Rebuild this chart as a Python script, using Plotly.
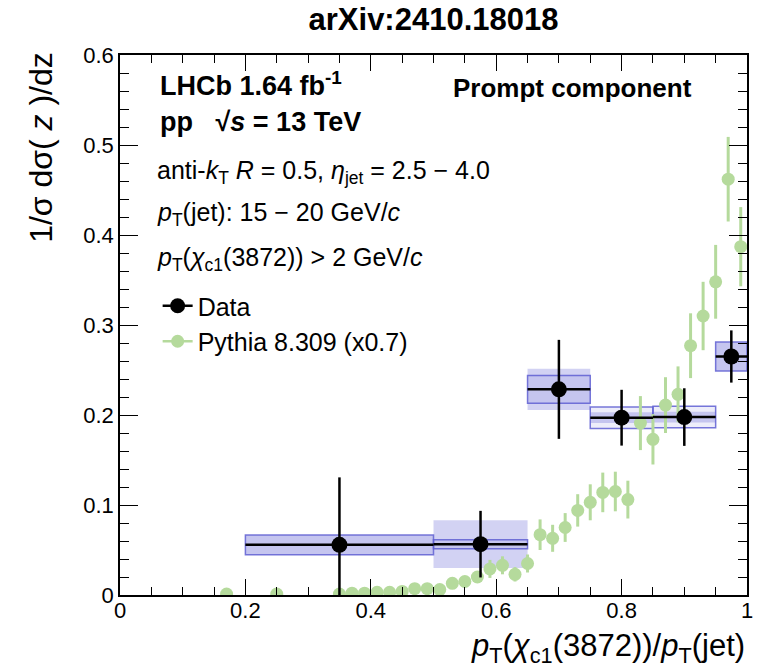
import plotly.graph_objects as go

# ---------------- data ----------------
data_x = [0.35, 0.575, 0.70, 0.80, 0.90, 0.975]
data_y = [0.0557, 0.0565, 0.2285, 0.197, 0.1977, 0.265]
data_err = [0.075, 0.037, 0.055, 0.031, 0.032, 0.029]
bin_lo = [0.20, 0.50, 0.65, 0.75, 0.85, 0.95]
bin_hi = [0.50, 0.65, 0.75, 0.85, 0.95, 1.00]
sys_outline = [0.011, 0.005, 0.0155, 0.012, 0.012, 0.016]
sys_fill = [0.011, 0.0265, 0.023, 0.006, 0.006, 0.016]

py_x = [0.17, 0.25, 0.35, 0.37, 0.39, 0.41, 0.43, 0.45, 0.47, 0.49, 0.51,
        0.53, 0.55, 0.57, 0.59, 0.61, 0.63, 0.65, 0.67, 0.69, 0.71, 0.73,
        0.75, 0.77, 0.79, 0.81, 0.83, 0.85, 0.87, 0.89, 0.91, 0.93, 0.95,
        0.97, 0.99]
py_y = [0.001, 0.001, 0.001, 0.002, 0.002, 0.003, 0.003, 0.004, 0.007, 0.007, 0.006,
        0.013, 0.015, 0.020, 0.029, 0.033, 0.023, 0.035, 0.067, 0.063, 0.075, 0.094,
        0.103, 0.114, 0.115, 0.106, 0.191, 0.173, 0.211, 0.223, 0.277, 0.310, 0.348,
        0.462, 0.387]
py_err = [0.003, 0.003, 0.003, 0.003, 0.003, 0.003, 0.003, 0.003, 0.004, 0.004, 0.004,
          0.006, 0.006, 0.006, 0.010, 0.010, 0.008, 0.010, 0.017, 0.015, 0.016, 0.018,
          0.020, 0.022, 0.022, 0.021, 0.030, 0.028, 0.031, 0.031, 0.036, 0.038, 0.041,
          0.047, 0.044]

x_tickvals = [0, 0.2, 0.4, 0.6, 0.8, 1.0]
x_ticktext = ["0", "0.2", "0.4", "0.6", "0.8", "1"]
y_tickvals = [0, 0.1, 0.2, 0.3, 0.4, 0.5, 0.6]
y_ticktext = ["0", "0.1", "0.2", "0.3", "0.4", "0.5", "0.6"]

FONT = "Liberation Sans, Arial, Helvetica, sans-serif"
GREEN = "#b5da9c"
BOX_FILL = "rgba(105,105,215,0.30)"
BOX_FILL2 = "rgba(105,105,215,0.12)"
BOX_LINE = "rgba(95,95,210,0.85)"

fig = go.Figure()

# systematic boxes built from data arrays
for lo, hi, y, sf, so in zip(bin_lo, bin_hi, data_y, sys_fill, sys_outline):
    fig.add_shape(type="rect", xref="x", yref="y", x0=lo, x1=hi, y0=y - sf, y1=y + sf,
                  fillcolor=BOX_FILL, line=dict(width=0), layer="below")
    fig.add_shape(type="rect", xref="x", yref="y", x0=lo, x1=hi, y0=y - so, y1=y + so,
                  fillcolor=BOX_FILL2, line=dict(color=BOX_LINE, width=1.5), layer="below")

# Pythia
fig.add_trace(go.Scatter(
    x=py_x, y=py_y, mode="markers", showlegend=False,
    marker=dict(color=GREEN, size=13),
    error_y=dict(type="data", array=py_err, color=GREEN, thickness=3, width=0),
))

# Data
err_minus = [x - lo for x, lo in zip(data_x, bin_lo)]
err_plus = [hi - x for x, hi in zip(data_x, bin_hi)]
fig.add_trace(go.Scatter(
    x=data_x, y=data_y, mode="markers", showlegend=False,
    marker=dict(color="black", size=16),
    error_y=dict(type="data", array=data_err, color="black", thickness=2.5, width=0),
    error_x=dict(type="data", array=err_plus, arrayminus=err_minus, color="black",
                 thickness=2.5, width=0),
))

# legend dummies
fig.add_trace(go.Scatter(x=[None], y=[None], mode="lines+markers", name="Data",
                         marker=dict(color="black", size=15), line=dict(color="black", width=2.5),
                         legendgroup="a"))
fig.add_trace(go.Scatter(x=[None], y=[None], mode="lines+markers", name="Pythia 8.309 (x0.7)",
                         marker=dict(color=GREEN, size=13), line=dict(color=GREEN, width=2.5),
                         legendgroup="b"))

def px2x(px):
    return (px - 120) / 633.0

def py2y(py):
    return (595 - py) / 540.0

annots = [
    dict(text="<b>LHCb 1.64 fb<sup>-1</sup></b>", x=px2x(158), y=py2y(84), size=27),
    dict(text="<b>pp   √<i>s</i> = 13 TeV</b>", x=px2x(158), y=py2y(122), size=27),
    dict(text="<b>Prompt component</b>", x=px2x(454), y=py2y(88), size=26),
    dict(text="anti-<i>k</i><sub>T</sub> <i>R</i> = 0.5, <i>η</i><sub>jet</sub> = 2.5 − 4.0",
         x=px2x(155), y=py2y(172), size=25),
    dict(text="<i>p</i><sub>T</sub>(jet): 15 − 20 GeV/<i>c</i>", x=px2x(155), y=py2y(214), size=25),
    dict(text="<i>p</i><sub>T</sub>(<i>χ</i><sub>c1</sub>(3872)) > 2 GeV/<i>c</i>",
         x=px2x(155), y=py2y(259), size=25),
]
for a in annots:
    fig.add_annotation(text=a["text"], x=a["x"], y=a["y"], xref="paper", yref="paper",
                       xanchor="left", yanchor="middle", showarrow=False,
                       font=dict(family=FONT, size=a["size"], color="black"))

# axis titles
fig.add_annotation(text="<i>p</i><sub>T</sub>(<i>χ</i><sub>c1</sub>(3872))/<i>p</i><sub>T</sub>(jet)",
                   x=1.0, y=-0.098, xref="paper", yref="paper", xanchor="right", yanchor="middle",
                   showarrow=False, font=dict(family=FONT, size=31, color="black"))
fig.add_annotation(text="1/σ dσ( <i>z</i> )/dz", textangle=-90,
                   x=px2x(40), y=1.01, xref="paper", yref="paper", xanchor="center", yanchor="top",
                   showarrow=False, font=dict(family=FONT, size=32, color="black"))

axis_common = dict(showline=True, linecolor="black", linewidth=1.5, mirror="allticks",
                   ticks="inside", tickcolor="black", tickwidth=1.2, showgrid=False,
                   zeroline=False, tickfont=dict(family=FONT, size=22, color="black"))

fig.update_xaxes(range=[0, 1], tickvals=x_tickvals, ticktext=x_ticktext, ticklen=16,
                 ticklabelstandoff=-5,
                 minor=dict(ticks="inside", dtick=0.05, ticklen=8, tickcolor="black", tickwidth=1.2),
                 **axis_common)
fig.update_yaxes(range=[0, 0.6], tickvals=y_tickvals, ticktext=y_ticktext, ticklen=18,
                 minor=dict(ticks="inside", dtick=0.02, ticklen=9, tickcolor="black", tickwidth=1.2),
                 **axis_common)

fig.update_layout(
    width=759, height=670,
    margin=dict(l=120, r=6, t=55, b=75),
    paper_bgcolor="white", plot_bgcolor="white",
    title=dict(text="<b>arXiv:2410.18018</b>", x=0.5, xref="paper", xanchor="center",
               y=1 - 19 / 670, yanchor="middle", font=dict(family=FONT, size=31, color="black")),
    legend=dict(x=px2x(158), y=py2y(283), xanchor="left", yanchor="top",
                bgcolor="rgba(0,0,0,0)", font=dict(family=FONT, size=25, color="black"),
                itemwidth=30, tracegroupgap=2, traceorder="normal"),
    font=dict(family=FONT),
)

fig.write_html("out.html")
